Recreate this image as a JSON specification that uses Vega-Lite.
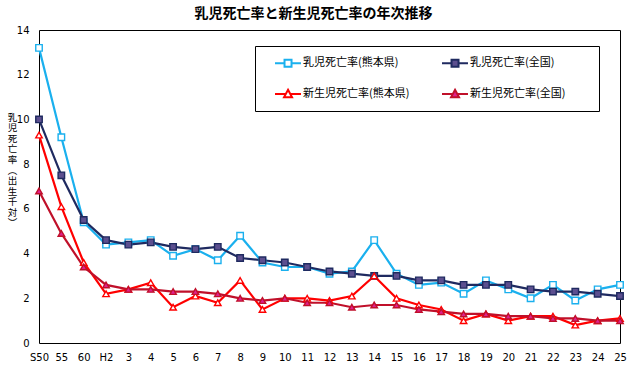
{
  "$schema": "https://vega.github.io/schema/vega-lite/v6.json",
  "width": 581,
  "height": 313,
  "autosize": {"type": "none"},
  "padding": {"left": 39, "top": 30, "right": 14, "bottom": 25},
  "title": {
    "text": "乳児死亡率と新生児死亡率の年次推移",
    "font": "Noto Sans CJK JP",
    "fontSize": 14,
    "fontWeight": "bold",
    "color": "black",
    "anchor": "middle",
    "dx": -16,
    "offset": 4
  },
  "data": {
    "values": [
      {"year": "S50", "s": "乳児死亡率(熊本県)", "v": 13.2}, {"year": "55", "s": "乳児死亡率(熊本県)", "v": 9.2}, {"year": "60", "s": "乳児死亡率(熊本県)", "v": 5.4}, {"year": "H2", "s": "乳児死亡率(熊本県)", "v": 4.4}, {"year": "3", "s": "乳児死亡率(熊本県)", "v": 4.5}, {"year": "4", "s": "乳児死亡率(熊本県)", "v": 4.6}, {"year": "5", "s": "乳児死亡率(熊本県)", "v": 3.9}, {"year": "6", "s": "乳児死亡率(熊本県)", "v": 4.2}, {"year": "7", "s": "乳児死亡率(熊本県)", "v": 3.7}, {"year": "8", "s": "乳児死亡率(熊本県)", "v": 4.8}, {"year": "9", "s": "乳児死亡率(熊本県)", "v": 3.6}, {"year": "10", "s": "乳児死亡率(熊本県)", "v": 3.4}, {"year": "11", "s": "乳児死亡率(熊本県)", "v": 3.4}, {"year": "12", "s": "乳児死亡率(熊本県)", "v": 3.1}, {"year": "13", "s": "乳児死亡率(熊本県)", "v": 3.2}, {"year": "14", "s": "乳児死亡率(熊本県)", "v": 4.6}, {"year": "15", "s": "乳児死亡率(熊本県)", "v": 3.1}, {"year": "16", "s": "乳児死亡率(熊本県)", "v": 2.6}, {"year": "17", "s": "乳児死亡率(熊本県)", "v": 2.7}, {"year": "18", "s": "乳児死亡率(熊本県)", "v": 2.2}, {"year": "19", "s": "乳児死亡率(熊本県)", "v": 2.8}, {"year": "20", "s": "乳児死亡率(熊本県)", "v": 2.4}, {"year": "21", "s": "乳児死亡率(熊本県)", "v": 2.0}, {"year": "22", "s": "乳児死亡率(熊本県)", "v": 2.6}, {"year": "23", "s": "乳児死亡率(熊本県)", "v": 1.9}, {"year": "24", "s": "乳児死亡率(熊本県)", "v": 2.4}, {"year": "25", "s": "乳児死亡率(熊本県)", "v": 2.6},
      {"year": "S50", "s": "乳児死亡率(全国)", "v": 10.0}, {"year": "55", "s": "乳児死亡率(全国)", "v": 7.5}, {"year": "60", "s": "乳児死亡率(全国)", "v": 5.5}, {"year": "H2", "s": "乳児死亡率(全国)", "v": 4.6}, {"year": "3", "s": "乳児死亡率(全国)", "v": 4.4}, {"year": "4", "s": "乳児死亡率(全国)", "v": 4.5}, {"year": "5", "s": "乳児死亡率(全国)", "v": 4.3}, {"year": "6", "s": "乳児死亡率(全国)", "v": 4.2}, {"year": "7", "s": "乳児死亡率(全国)", "v": 4.3}, {"year": "8", "s": "乳児死亡率(全国)", "v": 3.8}, {"year": "9", "s": "乳児死亡率(全国)", "v": 3.7}, {"year": "10", "s": "乳児死亡率(全国)", "v": 3.6}, {"year": "11", "s": "乳児死亡率(全国)", "v": 3.4}, {"year": "12", "s": "乳児死亡率(全国)", "v": 3.2}, {"year": "13", "s": "乳児死亡率(全国)", "v": 3.1}, {"year": "14", "s": "乳児死亡率(全国)", "v": 3.0}, {"year": "15", "s": "乳児死亡率(全国)", "v": 3.0}, {"year": "16", "s": "乳児死亡率(全国)", "v": 2.8}, {"year": "17", "s": "乳児死亡率(全国)", "v": 2.8}, {"year": "18", "s": "乳児死亡率(全国)", "v": 2.6}, {"year": "19", "s": "乳児死亡率(全国)", "v": 2.6}, {"year": "20", "s": "乳児死亡率(全国)", "v": 2.6}, {"year": "21", "s": "乳児死亡率(全国)", "v": 2.4}, {"year": "22", "s": "乳児死亡率(全国)", "v": 2.3}, {"year": "23", "s": "乳児死亡率(全国)", "v": 2.3}, {"year": "24", "s": "乳児死亡率(全国)", "v": 2.2}, {"year": "25", "s": "乳児死亡率(全国)", "v": 2.1},
      {"year": "S50", "s": "新生児死亡率(熊本県)", "v": 9.3}, {"year": "55", "s": "新生児死亡率(熊本県)", "v": 6.1}, {"year": "60", "s": "新生児死亡率(熊本県)", "v": 3.6}, {"year": "H2", "s": "新生児死亡率(熊本県)", "v": 2.2}, {"year": "3", "s": "新生児死亡率(熊本県)", "v": 2.4}, {"year": "4", "s": "新生児死亡率(熊本県)", "v": 2.7}, {"year": "5", "s": "新生児死亡率(熊本県)", "v": 1.6}, {"year": "6", "s": "新生児死亡率(熊本県)", "v": 2.1}, {"year": "7", "s": "新生児死亡率(熊本県)", "v": 1.8}, {"year": "8", "s": "新生児死亡率(熊本県)", "v": 2.8}, {"year": "9", "s": "新生児死亡率(熊本県)", "v": 1.5}, {"year": "10", "s": "新生児死亡率(熊本県)", "v": 2.0}, {"year": "11", "s": "新生児死亡率(熊本県)", "v": 2.0}, {"year": "12", "s": "新生児死亡率(熊本県)", "v": 1.9}, {"year": "13", "s": "新生児死亡率(熊本県)", "v": 2.1}, {"year": "14", "s": "新生児死亡率(熊本県)", "v": 3.0}, {"year": "15", "s": "新生児死亡率(熊本県)", "v": 2.0}, {"year": "16", "s": "新生児死亡率(熊本県)", "v": 1.7}, {"year": "17", "s": "新生児死亡率(熊本県)", "v": 1.5}, {"year": "18", "s": "新生児死亡率(熊本県)", "v": 1.0}, {"year": "19", "s": "新生児死亡率(熊本県)", "v": 1.3}, {"year": "20", "s": "新生児死亡率(熊本県)", "v": 1.0}, {"year": "21", "s": "新生児死亡率(熊本県)", "v": 1.2}, {"year": "22", "s": "新生児死亡率(熊本県)", "v": 1.2}, {"year": "23", "s": "新生児死亡率(熊本県)", "v": 0.8}, {"year": "24", "s": "新生児死亡率(熊本県)", "v": 1.0}, {"year": "25", "s": "新生児死亡率(熊本県)", "v": 1.1},
      {"year": "S50", "s": "新生児死亡率(全国)", "v": 6.8}, {"year": "55", "s": "新生児死亡率(全国)", "v": 4.9}, {"year": "60", "s": "新生児死亡率(全国)", "v": 3.4}, {"year": "H2", "s": "新生児死亡率(全国)", "v": 2.6}, {"year": "3", "s": "新生児死亡率(全国)", "v": 2.4}, {"year": "4", "s": "新生児死亡率(全国)", "v": 2.4}, {"year": "5", "s": "新生児死亡率(全国)", "v": 2.3}, {"year": "6", "s": "新生児死亡率(全国)", "v": 2.3}, {"year": "7", "s": "新生児死亡率(全国)", "v": 2.2}, {"year": "8", "s": "新生児死亡率(全国)", "v": 2.0}, {"year": "9", "s": "新生児死亡率(全国)", "v": 1.9}, {"year": "10", "s": "新生児死亡率(全国)", "v": 2.0}, {"year": "11", "s": "新生児死亡率(全国)", "v": 1.8}, {"year": "12", "s": "新生児死亡率(全国)", "v": 1.8}, {"year": "13", "s": "新生児死亡率(全国)", "v": 1.6}, {"year": "14", "s": "新生児死亡率(全国)", "v": 1.7}, {"year": "15", "s": "新生児死亡率(全国)", "v": 1.7}, {"year": "16", "s": "新生児死亡率(全国)", "v": 1.5}, {"year": "17", "s": "新生児死亡率(全国)", "v": 1.4}, {"year": "18", "s": "新生児死亡率(全国)", "v": 1.3}, {"year": "19", "s": "新生児死亡率(全国)", "v": 1.3}, {"year": "20", "s": "新生児死亡率(全国)", "v": 1.2}, {"year": "21", "s": "新生児死亡率(全国)", "v": 1.2}, {"year": "22", "s": "新生児死亡率(全国)", "v": 1.1}, {"year": "23", "s": "新生児死亡率(全国)", "v": 1.1}, {"year": "24", "s": "新生児死亡率(全国)", "v": 1.0}, {"year": "25", "s": "新生児死亡率(全国)", "v": 1.0}
    ]
  },
  "encoding": {
    "x": {
      "field": "year",
      "type": "nominal",
      "sort": null,
      "scale": {"type": "point", "padding": 0},
      "axis": {
        "title": null,
        "labelAngle": 0,
        "ticks": false,
        "domain": false,
        "labelPadding": 9,
        "labelFont": "DejaVu Sans",
        "labelFontSize": 10,
        "labelColor": "black"
      }
    },
    "y": {
      "field": "v",
      "type": "quantitative",
      "scale": {"domain": [0, 14], "nice": false},
      "axis": {
        "values": [0, 2, 4, 6, 8, 10, 12, 14],
        "grid": false,
        "ticks": false,
        "domain": false,
        "labelPadding": 10,
        "labelFont": "DejaVu Sans",
        "labelFontSize": 10,
        "labelColor": "black",
        "title": ["乳", "児", "死", "亡", "率", "︵", "出", "生", "千", "対", "︶"],
        "titleAngle": 0,
        "titleX": -27,
        "titleY": 82,
        "titleAlign": "center",
        "titleBaseline": "top",
        "titleLineHeight": 10.6,
        "titleFont": "Noto Sans CJK JP",
        "titleFontSize": 9.5,
        "titleFontWeight": "normal",
        "titleColor": "black"
      }
    }
  },
  "layer": [
    {
      "mark": {"type": "line", "strokeWidth": 2.2},
      "encoding": {
        "color": {
          "field": "s",
          "type": "nominal",
          "sort": null,
          "scale": {
            "domain": ["乳児死亡率(熊本県)", "乳児死亡率(全国)", "新生児死亡率(熊本県)", "新生児死亡率(全国)"],
            "range": ["#1AB0EE", "#1F2A60", "#FF0000", "#C0102A"]
          },
          "legend": {
            "title": null,
            "orient": "none",
            "direction": "horizontal",
            "legendX": 216,
            "legendY": 16,
            "columns": 2,
            "columnPadding": 21,
            "rowPadding": 14,
            "padding": 9,
            "strokeColor": "black",
            "fillColor": "white",
            "symbolSize": 196,
            "symbolStrokeWidth": 2,
            "labelOffset": 23,
            "labelFont": "Noto Sans CJK JP",
            "labelFontSize": 11,
            "labelColor": "black",
            "labelExpr": "indexof(datum.label, '全国') >= 0 ? datum.label + '\u2800\u2800\u2800' : datum.label",
            "encode": {
              "symbols": {
                "update": {
                  "shape": {"signal": "indexof(datum.value, '新生児') >= 0 ? 'M0.43,0H1.96M2.62,0H4.14M2.29,-0.6L2.86,0.45H1.72Z' : 'M0.43,0H1.79M2.79,0H4.14M1.79,-0.5H2.79V0.5H1.79Z'"},
                  "fill": {"signal": "indexof(datum.value, '熊本') >= 0 ? 'white' : (indexof(datum.value, '新生児') >= 0 ? '#E0208F' : '#5C4F8F')"},
                  "strokeWidth": {"value": 2},
                  "size": {"value": 196},
                  "opacity": {"value": 1}
                }
              }
            }
          }
        }
      }
    },
    {
      "mark": {"type": "point", "filled": true, "size": 42, "strokeWidth": 1.4, "opacity": 1},
      "encoding": {
        "shape": {
          "condition": {"test": "indexof(datum.s, '新生児') >= 0", "value": "triangle-up"},
          "value": "square"
        },
        "fill": {
          "condition": [
            {"test": "indexof(datum.s, '熊本') >= 0", "value": "white"},
            {"test": "indexof(datum.s, '新生児') >= 0", "value": "#E0208F"}
          ],
          "value": "#5C4F8F"
        },
        "stroke": {
          "condition": [
            {"test": "datum.s == '乳児死亡率(熊本県)'", "value": "#1AB0EE"},
            {"test": "datum.s == '乳児死亡率(全国)'", "value": "#1F2A60"},
            {"test": "datum.s == '新生児死亡率(熊本県)'", "value": "#FF0000"}
          ],
          "value": "#C0102A"
        }
      }
    }
  ],
  "config": {
    "view": {"stroke": "black", "strokeWidth": 1},
    "background": "white"
  }
}
